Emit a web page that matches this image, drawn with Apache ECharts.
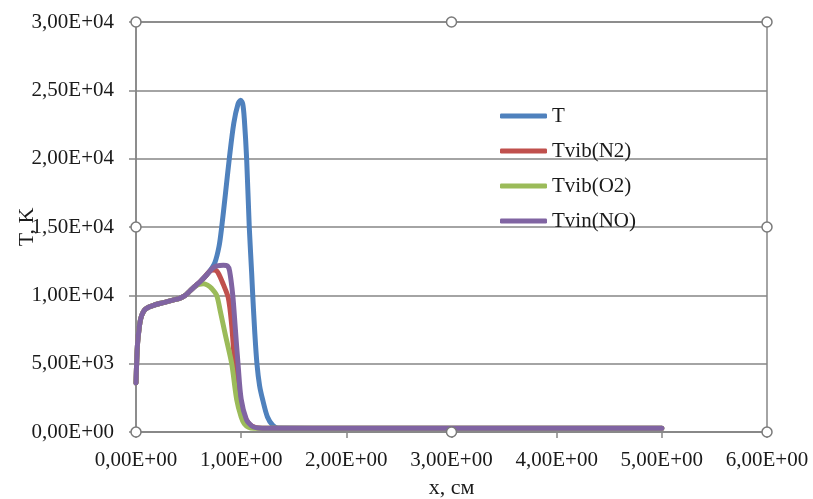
<!DOCTYPE html>
<html><head><meta charset="utf-8">
<script src="https://cdn.jsdelivr.net/npm/echarts@6/dist/echarts.min.js"></script>
<style>html,body{margin:0;padding:0;background:#fff}#c{width:813px;height:499px}</style>
</head><body><div id="c"></div>
<script>
// Shared initial part of all curves
const xShared = [0, 0.006, 0.015, 0.03, 0.045, 0.07, 0.1, 0.16, 0.25, 0.35, 0.42, 0.47, 0.51, 0.56];
const yShared = [3600, 5000, 6500, 7600, 8300, 8800, 9050, 9250, 9450, 9650, 9800, 10000, 10300, 10650];

const xT = [0.61, 0.66, 0.70, 0.75, 0.79, 0.815, 0.85, 0.887, 0.93, 0.97, 0.995, 1.015, 1.03, 1.052, 1.077, 1.10, 1.11, 1.13, 1.15, 1.175, 1.205, 1.25, 1.3, 1.35, 2, 3, 4, 5];
const yT = [11000, 11400, 11750, 12400, 13600, 15000, 17400, 20000, 22600, 24000, 24280, 24000, 22900, 20000, 15000, 11600, 10000, 7200, 5000, 3400, 2350, 1100, 500, 300, 280, 280, 280, 280];

const xN2 = [0.61, 0.66, 0.70, 0.73, 0.75, 0.78, 0.83, 0.878, 0.91, 0.94, 0.99, 1.03, 1.08, 1.14, 1.2, 2, 3, 4, 5];
const yN2 = [11000, 11400, 11750, 11850, 11850, 11650, 10800, 9800, 7800, 5000, 2400, 1200, 550, 320, 280, 280, 280, 280, 280];

const xO2 = [0.60, 0.64, 0.68, 0.72, 0.767, 0.80, 0.85, 0.91, 0.957, 1.0, 1.03, 1.07, 1.12, 2, 3, 4, 5];
const yO2 = [10800, 10850, 10750, 10500, 10000, 8900, 7100, 5000, 2400, 1100, 600, 350, 280, 280, 280, 280, 280];

const xNO = [0.61, 0.66, 0.70, 0.73, 0.77, 0.83, 0.87, 0.89, 0.92, 0.945, 0.97, 1.0, 1.05, 1.1, 1.14, 1.2, 2, 3, 4, 5];
const yNO = [11000, 11400, 11750, 12000, 12150, 12200, 12150, 11780, 10000, 7500, 5000, 2400, 900, 450, 320, 280, 280, 280, 280, 280];

const seriesNames = ['T', 'Tvib(N2)', 'Tvib(O2)', 'Tvin(NO)'];
const seriesColors = ['#4F81BD', '#C0504D', '#9BBB59', '#8064A2'];

// selection-handle decoration positions (data coords)
const handleX = [0, 3, 6, 0, 6, 0, 3, 6];
const handleY = [30000, 30000, 30000, 15000, 15000, 0, 0, 0];

function build(xs, ys) {
  const pts = xShared.map((x, i) => [x, yShared[i]]);
  xs.forEach((x, i) => pts.push([x, ys[i]]));
  return pts;
}
function fmt(v) {
  const s = Number(v).toExponential(2);
  const m = s.match(/^(-?[\d.]+)e([+-])(\d+)$/);
  let e = m[3]; if (e.length < 2) e = '0' + e;
  return m[1].replace('.', ',') + 'E' + m[2] + e;
}
const font = 'Liberation Serif';
const dataSets = [build(xT, yT), build(xN2, yN2), build(xO2, yO2), build(xNO, yNO)];
const gray = '#868686';
const txt = '#1a1a1a';

const chart = echarts.init(document.getElementById('c'));
chart.setOption({
  animation: false,
  backgroundColor: '#fff',
  grid: { left: 136, right: 46, top: 22, bottom: 67, show: true, borderColor: gray, borderWidth: 1.5,
          outerBoundsMode: 'none', containLabel: false },
  legend: {
    data: seriesNames,
    orient: 'vertical', left: 495, top: 100,
    itemWidth: 47, itemHeight: 5, itemGap: 13, icon: 'roundRect',
    textStyle: { fontFamily: font, fontSize: 21, color: txt, lineHeight: 22 }
  },
  xAxis: {
    type: 'value', min: 0, max: 6, interval: 1,
    name: 'x, см', nameLocation: 'middle', nameGap: 45, nameMoveOverlap: false,
    nameTextStyle: { fontFamily: font, fontSize: 22, color: txt },
    axisLine: { show: true, lineStyle: { color: gray, width: 1.5 } },
    axisTick: { show: true, length: 6, lineStyle: { color: gray, width: 1.5 } },
    axisLabel: { formatter: fmt, fontFamily: font, fontSize: 21, color: txt, margin: 18 },
    splitLine: { show: false }
  },
  yAxis: {
    type: 'value', min: 0, max: 30000, interval: 5000,
    name: 'T, K', nameLocation: 'middle', nameGap: 98, nameRotate: 90, nameMoveOverlap: false,
    nameTextStyle: { fontFamily: font, fontSize: 22, color: txt },
    axisLine: { show: true, lineStyle: { color: gray, width: 1.5 } },
    axisTick: { show: true, length: 7, lineStyle: { color: gray, width: 1.5 } },
    axisLabel: { formatter: fmt, fontFamily: font, fontSize: 21, color: txt, margin: 22 },
    splitLine: { show: true, lineStyle: { color: gray, width: 1.5 } }
  },
  series: seriesNames.map((n, i) => ({
    name: n, type: 'line', data: dataSets[i], smooth: 0.3, showSymbol: false,
    color: seriesColors[i],
    lineStyle: { width: 5, color: seriesColors[i], cap: 'round', join: 'round' }
  })).concat([{
    name: 'handles', type: 'scatter', silent: true, clip: false, z: 5,
    data: handleX.map((x, i) => [x, handleY[i]]),
    symbol: 'circle', symbolSize: 10,
    itemStyle: { color: '#fff', borderColor: '#7a7a7a', borderWidth: 1.5, opacity: 1 }
  }])
});
</script></body></html>
